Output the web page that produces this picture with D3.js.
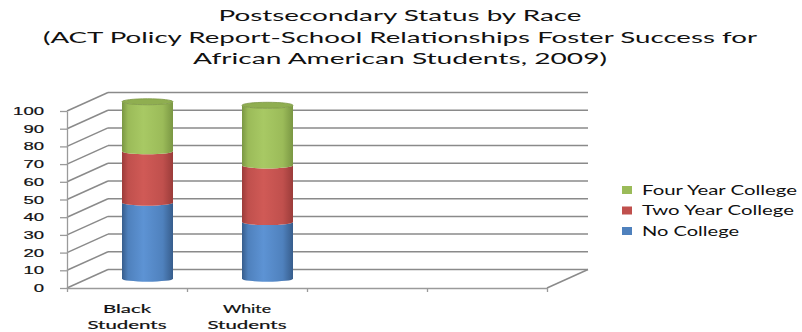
<!DOCTYPE html>
<html>
<head>
<meta charset="utf-8">
<script src="https://cdn.jsdelivr.net/npm/d3@7"></script>
<style>
  body { margin: 0; background: #fff; }
  svg { display: block; font-family: Lato, "Open Sans", sans-serif; }
  svg text.heavy { stroke: #111; stroke-width: 0.2px; }
</style>
</head>
<body>
<svg id="chart" width="802" height="332"></svg>
<script>
// data
const categories = ["Black Students", "White Students"];
const slots = 4; // the axis keeps two empty category slots on the right
const seriesNames = ["No College", "Two Year College", "Four Year College"];
const noCollege = [43, 32];
const twoYear = [29, 32];
const fourYear = [28, 34];
const yTicks = [0, 10, 20, 30, 40, 50, 60, 70, 80, 90, 100];
const titleLines = [
  "Postsecondary Status by Race",
  "(ACT Policy Report-School Relationships Foster Success for",
  "African American Students, 2009)"
];

const svg = d3.select("svg#chart");

// the picture is stretched sideways, so text widths are forced
const stretch = (sel, perChar) =>
  sel.attr("textLength", function () { return this.textContent.length * perChar; })
     .attr("lengthAdjust", "spacingAndGlyphs");

// front plane scales, back wall is shifted by the depth offset
const x = d3.scaleLinear().domain([0, slots]).range([67, 547]);
const y = d3.scaleLinear().domain([0, 100]).range([288, 111]);
const dx = 41, dy = -18.5;
const gridColor = "#8a8a8a";

// title
const titleW = [363, 714, 414];
svg.append("g").selectAll("text").data(titleLines).join("text")
  .attr("x", 400)
  .attr("y", (d, i) => 21 + i * 21.5)
  .attr("text-anchor", "middle")
  .attr("font-size", 15)
  .attr("fill", "#111")
  .attr("textLength", (d, i) => titleW[i])
  .attr("lengthAdjust", "spacingAndGlyphs")
  .text(d => d);

// walls
const g_grid = svg.append("g").attr("stroke", gridColor).attr("stroke-width", 1.5).attr("fill", "none");
g_grid.selectAll("line.back").data(yTicks).join("line")
  .attr("class", "back")
  .attr("x1", x(0) + dx).attr("x2", x(slots) + dx)
  .attr("y1", d => y(d) + dy).attr("y2", d => y(d) + dy);
g_grid.selectAll("line.side").data(yTicks).join("line")
  .attr("class", "side")
  .attr("x1", x(0)).attr("x2", x(0) + dx)
  .attr("y1", d => y(d)).attr("y2", d => y(d) + dy);
g_grid.append("line")
  .attr("x1", x(slots)).attr("x2", x(slots) + dx)
  .attr("y1", y(0)).attr("y2", y(0) + dy);

// axes
const g_yaxis = svg.append("g").attr("transform", `translate(${x(0)},0)`)
  .call(d3.axisLeft(y).tickValues(yTicks).tickSize(7).tickSizeOuter(0).tickPadding(16));
g_yaxis.selectAll("path, line").attr("stroke", "#9a9a9a").attr("stroke-width", 1.3);
g_yaxis.selectAll("text").attr("class", "heavy").attr("font-size", 11).attr("fill", "#111").call(stretch, 10.3);

const g_xaxis = svg.append("g").attr("transform", `translate(0,${y(0)})`)
  .call(d3.axisBottom(x).ticks(slots).tickSize(4).tickSizeOuter(0).tickFormat(""));
g_xaxis.selectAll("path, line").attr("stroke", "#9a9a9a").attr("stroke-width", 1.3);

// category labels, two lines each
const g_cat = svg.append("g");
categories.forEach((c, i) => {
  const words = c.split(" ");
  const t = g_cat.append("text")
    .attr("class", "heavy")
    .attr("text-anchor", "middle")
    .attr("font-size", 11.5)
    .attr("fill", "#111");
  words.forEach((w, j) => {
    t.append("tspan")
      .attr("x", x(i + 0.5))
      .attr("y", 313 + j * 16)
      .attr("textLength", w.length * (j ? 9.9 : 9.6))
      .attr("lengthAdjust", "spacingAndGlyphs")
      .text(w);
  });
});

// cylinder gradients
const colors = [
  { base: "#4f81bd", dark: "#375d8c", light: "#5d93d4" },
  { base: "#c0504d", dark: "#9b3c3a", light: "#d05a56" },
  { base: "#9bbb59", dark: "#7a9743", light: "#a8c964" }
];
const defs = svg.append("defs");
colors.forEach((c, i) => {
  const lg = defs.append("linearGradient").attr("id", "cyl" + i)
    .attr("x1", 0).attr("x2", 1).attr("y1", 0).attr("y2", 0);
  lg.append("stop").attr("offset", 0).attr("stop-color", c.dark);
  lg.append("stop").attr("offset", 0.12).attr("stop-color", c.base);
  lg.append("stop").attr("offset", 0.42).attr("stop-color", c.light);
  lg.append("stop").attr("offset", 0.8).attr("stop-color", c.base);
  lg.append("stop").attr("offset", 1).attr("stop-color", c.dark);
});

const stack = d3.stack().keys([0, 1, 2]).value((d, k) => d[k]);
const rows = categories.map((c, i) => [noCollege[i], twoYear[i], fourYear[i]]);
const layers = stack(rows);

const rx = 25.5, ry = 3;
const cx = i => x(i + 0.5) + dx / 2;
const cy = v => y(v) + dy / 2;

const segPath = (i, v0, v1) => {
  const l = cx(i) - rx, r = cx(i) + rx, b = cy(v0), t = cy(v1);
  return `M${l},${t}L${l},${b}A${rx},${ry} 0 0 0 ${r},${b}L${r},${t}A${rx},${ry} 0 0 1 ${l},${t}Z`;
};

const g_bars = svg.append("g");
layers.forEach((layer, k) => {
  g_bars.append("g").selectAll("path").data(layer).join("path")
    .attr("d", (d, i) => segPath(i, d[0], d[1]))
    .attr("fill", `url(#cyl${k})`);
});
// lids
g_bars.append("g").selectAll("ellipse").data(layers[2]).join("ellipse")
  .attr("cx", (d, i) => cx(i))
  .attr("cy", d => cy(d[1]))
  .attr("rx", rx).attr("ry", ry)
  .attr("fill", "#8fae50")
  .attr("stroke", "#7b9644").attr("stroke-width", 0.8);

// legend
const legendOrder = [2, 1, 0];
const g_leg = svg.append("g");
const legW = [155 / 17, 152 / 16, 97 / 10];
legendOrder.forEach((k, j) => {
  const yy = 190 + j * 20.5;
  g_leg.append("rect").attr("x", 622).attr("y", yy - 4).attr("width", 10).attr("height", 8)
    .attr("fill", colors[k].base);
  g_leg.append("text").attr("x", 642).attr("y", yy + 4.5)
    .attr("font-size", 12.5).attr("fill", "#111")
    .text(seriesNames[k])
    .attr("textLength", seriesNames[k].length * legW[j])
    .attr("lengthAdjust", "spacingAndGlyphs");
});
</script>
</body>
</html>
